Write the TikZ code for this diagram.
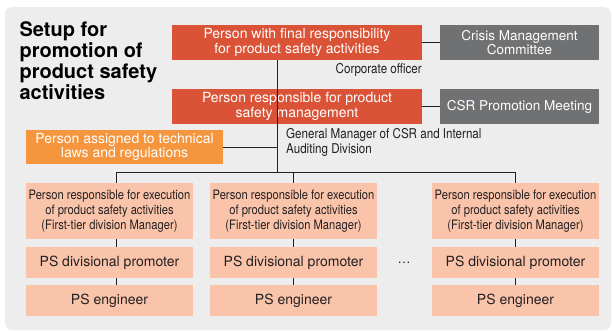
\documentclass[tikz,border=0pt]{standalone}
\usepackage{fontspec}
\setmainfont{TeX Gyre Heros}
\newfontfamily\narrowfont[FakeStretch=0.86]{TeX Gyre Heros}
\usetikzlibrary{positioning}

\definecolor{bgGray}{HTML}{EDEDED}
\definecolor{redBox}{HTML}{DA5337}
\definecolor{grayBox}{HTML}{707173}
\definecolor{orangeBox}{HTML}{F5953D}
\definecolor{pinkBox}{HTML}{FAC4AB}
\definecolor{darkText}{HTML}{231F20}

\tikzset{
	box/.style={inner sep=0pt, align=center, text=white, font=\fontsize{14}{14.5}\selectfont},
	redbox/.style={box, fill=redBox, minimum width=250pt, minimum height=35pt},
	graybox/.style={box, fill=grayBox, minimum width=159pt, minimum height=35pt, font=\fontsize{13.5}{14.5}\selectfont},
	pinkbox/.style={box, fill=pinkBox, text=darkText, minimum width=167pt},
	link/.style={draw=darkText, line width=0.9pt}
}

\begin{document}
\begin{tikzpicture}[x=1pt,y=-1pt]
			\useasboundingbox (0,0) rectangle (612,331);
			\fill[bgGray, rounded corners=7pt] (5,7) rectangle (611,330);
			\node[anchor=north west, align=left, font=\bfseries\fontsize{20}{21}\selectfont] (title) at (16,18) {Setup for\\promotion of\\product safety\\activities};

			% top of the chain
			\node[redbox] (final) at (297,42.5) {Person with final responsibility\\for product safety activities};
			\node[graybox] (crisis) at (519.5,42.5) {Crisis Management\\Committee};
			\node[redbox] (mgmt) at (297,106.5) {Person responsible for product\\safety management};
			\node[graybox] (csr) at (519.5,106.5) {CSR Promotion Meeting};
			\node[box, fill=orangeBox, minimum width=197pt, minimum height=34pt] (tech) at (124.5,147) {Person assigned to technical\\laws and regulations};
			\node[anchor=north east, inner sep=0pt, text=darkText, font=\narrowfont\fontsize{13.5}{15}\selectfont] (officer) at (422,63) {Corporate officer};
			\node[anchor=north west, inner sep=0pt, align=left, text=darkText, font=\narrowfont\fontsize{13.5}{15}\selectfont] (gm) at (286,128) {General Manager of CSR and Internal\\Auditing Division};

			\coordinate (bus) at (277,172);
			\coordinate (busL) at (116,172);
			\coordinate (busR) at (515.5,172);
			\draw[link] (final.east) -- (crisis.west);
			\draw[link] (mgmt.east) -- (csr.west);
			\draw[link] (final.south -| bus) -- (bus);
			\draw[link] (tech.east) -- (tech.east -| bus);
			\draw[link] (busL) -- (busR);

			% divisions
			\foreach \n/\x/\s in {a/109.5/116, b/293.5/293.5, c/515.5/515.5} {
				\node[pinkbox, minimum height=56pt, font=\narrowfont\fontsize{13}{15}\selectfont] (exec\n) at (\x,211) {Person responsible for execution\\of product safety activities\\(First-tier division Manager)};
				\node[pinkbox, minimum height=31pt] (prom\n) at (\x,262.5) {PS divisional promoter};
				\node[pinkbox, minimum height=31pt] (eng\n) at (\x,300.5) {PS engineer};
				\draw[link] (\s,172) -- (\s,183);
				\draw[link] (\s,239) -- (\s,247);
				\draw[link] (\s,278) -- (\s,285);
			}
			\node[text=darkText, font=\fontsize{13}{14}\selectfont] (dots) at (404,263) {\dots};
		\end{tikzpicture}
\end{document}
